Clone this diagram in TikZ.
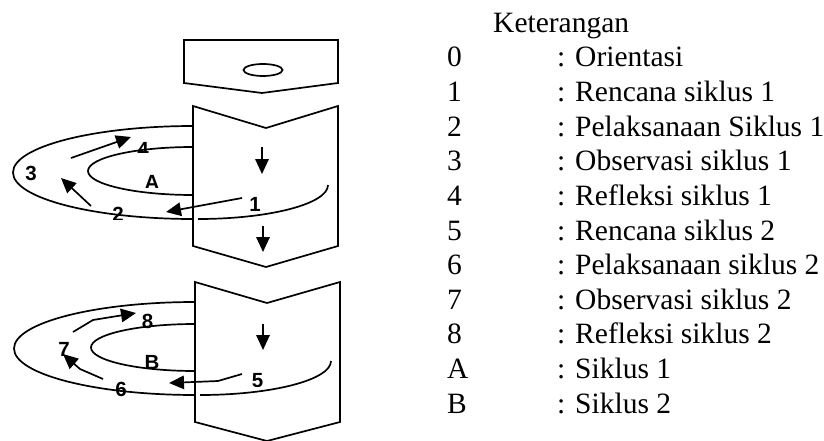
\documentclass[tikz,border=0pt]{standalone}
\usepackage{fontspec}
\setmainfont{Liberation Serif}
\newfontfamily\lblfont{Liberation Sans}
\usetikzlibrary{arrows.meta}
\begin{document}
\begin{tikzpicture}[x=1pt,y=-1pt,
  outline/.style={line width=1.7pt, line join=miter},
  ring/.style={line width=1.7pt},
  arr/.style={line width=1.7pt, -{Triangle[length=15pt,width=13.5pt]}},
  lbl/.style={font=\lblfont\bfseries\fontsize{20.5}{20.5}\selectfont, inner sep=0pt},
  legtext/.style={font=\fontsize{29.5}{35}\selectfont, inner sep=0pt, anchor=base west}]
\useasboundingbox (0,0) rectangle (824,441);

% ---- boxes ----
\draw[outline] (184,40) -- (338,40) -- (338,83) -- (262,93) -- (184,83) -- cycle;
\draw[outline] (263,70) ellipse [x radius=19.5pt, y radius=6pt];
\draw[outline] (193,106) -- (266,128) -- (338,106) -- (338,246) -- (266,267) -- (193,246) -- cycle;
\draw[outline] (195,282) -- (267,303) -- (340,282) -- (340,422) -- (267,441) -- (195,422) -- cycle;

% ---- cycle 1 rings ----
\draw[ring] (193,126) arc[start angle=90, end angle=270, x radius=180pt, y radius=46.5pt];
\draw[ring] (198,219) arc[start angle=270, end angle=360, x radius=130pt, y radius=34pt];
\draw[ring] (193,147) arc[start angle=90, end angle=270, x radius=105pt, y radius=24pt];

% ---- cycle 2 rings ----
\draw[ring] (195,302) arc[start angle=90, end angle=270, x radius=181pt, y radius=46.5pt];
\draw[ring] (200,395) arc[start angle=270, end angle=360, x radius=131pt, y radius=34pt];
\draw[ring] (195,324) arc[start angle=90, end angle=270, x radius=104pt, y radius=23.5pt];

% ---- arrow end points ----
\coordinate (a4s) at (71,158);  \coordinate (a4e) at (131,137);
\coordinate (a3s) at (91,206);  \coordinate (a3e) at (61,178);
\coordinate (a2s) at (242,198); \coordinate (a2e) at (166,212);
\coordinate (d1s) at (262,147); \coordinate (d1e) at (262,174);
\coordinate (d2s) at (263,226); \coordinate (d2e) at (263,252);
\coordinate (a8s) at (73,332);  \coordinate (a8m) at (93,320); \coordinate (a8e) at (136,313);
\coordinate (a7s) at (103,379); \coordinate (a7m) at (80,369); \coordinate (a7e) at (63,354);
\coordinate (a6s) at (242,374); \coordinate (a6m) at (218,381); \coordinate (a6e) at (169,383);
\coordinate (d3s) at (263,324); \coordinate (d3e) at (263,350);

\draw[arr] (a4s) -- (a4e);
\draw[arr] (a3s) -- (a3e);
\draw[arr] (a2s) -- (a2e);
\draw[arr] (d1s) -- (d1e);
\draw[arr] (d2s) -- (d2e);
\draw[arr] (a8s) -- (a8m) -- (a8e);
\draw[arr] (a7s) -- (a7m) -- (a7e);
\draw[arr] (a6s) -- (a6m) -- (a6e);
\draw[arr] (d3s) -- (d3e);

% ---- labels (partly hidden, as in the reference) ----
\begin{scope}\clip (125,130) rectangle (165,152); \node[lbl] (l4) at (143,149.5) {4}; \end{scope}
\begin{scope}\clip (135,160) rectangle (170,187); \node[lbl] (lA) at (152,182.5) {A}; \end{scope}
\node[lbl] (l3) at (31,173.5) {3};
\begin{scope}\clip (100,195) rectangle (140,219); \node[lbl] (l2) at (118,214.5) {2}; \end{scope}
\node[lbl] (l1) at (255,204) {1};
\node[lbl] (l8) at (147.5,321.5) {8};
\node[lbl] (l7) at (64,349.5) {7};
\begin{scope}\clip (135,340) rectangle (170,369); \node[lbl] (lB) at (152,362.5) {B}; \end{scope}
\begin{scope}\clip (100,370) rectangle (140,396); \node[lbl] (l6) at (121,389.5) {6}; \end{scope}
\begin{scope}\clip (240,360) rectangle (275,386); \node[lbl] (l5) at (257.5,380.5) {5}; \end{scope}

% ---- legend ----
\node[legtext] (kt) at (493,33) {Keterangan};
\foreach \k/\t [count=\i from 0] in {0/Orientasi, 1/Rencana siklus 1, 2/Pelaksanaan Siklus 1,
    3/Observasi siklus 1, 4/Refleksi siklus 1, 5/Rencana siklus 2, 6/Pelaksanaan siklus 2,
    7/Observasi siklus 2, 8/Refleksi siklus 2, A/Siklus 1, B/Siklus 2}{
  \node[legtext] (num\i) at (447,67+34.6*\i) {\k};
  \node[legtext] (desc\i) at (557,67+34.6*\i) {: \t};
}
\end{tikzpicture}
\end{document}
